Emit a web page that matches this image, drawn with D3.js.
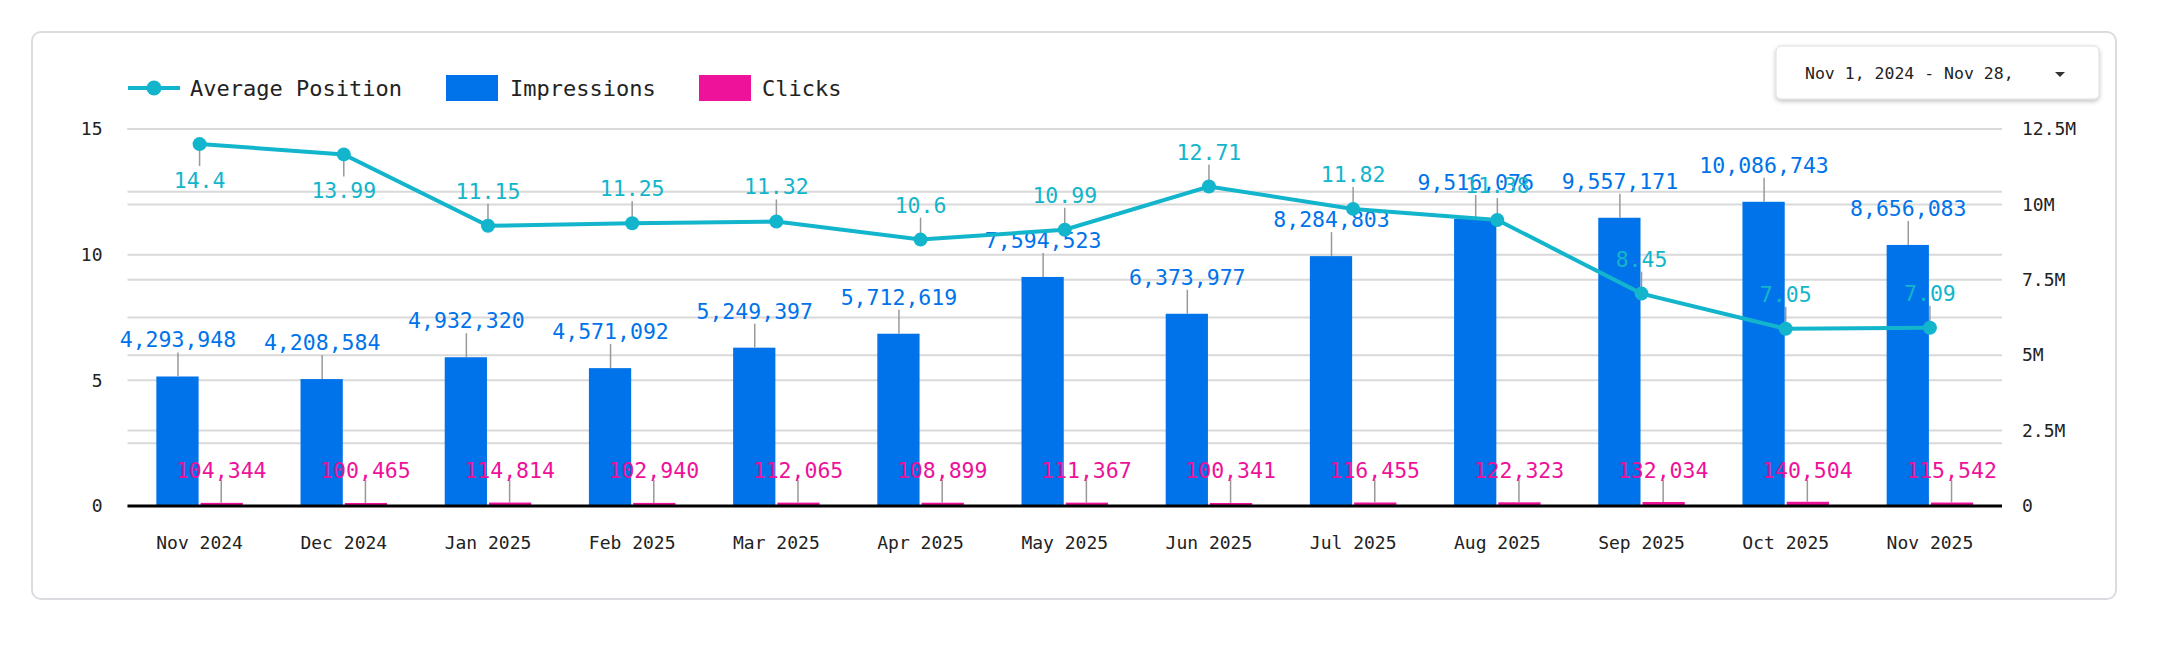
<!DOCTYPE html>
<html>
<head>
<meta charset="utf-8">
<script src="https://cdn.jsdelivr.net/npm/d3@7"></script>
<style>
body { margin: 0; background: #fff; }
text { font-family: "DejaVu Sans Mono", monospace; }
</style>
</head>
<body>
<svg id="chart" width="2160" height="650"></svg>
<script>
var months = ["Nov 2024","Dec 2024","Jan 2025","Feb 2025","Mar 2025","Apr 2025","May 2025","Jun 2025","Jul 2025","Aug 2025","Sep 2025","Oct 2025","Nov 2025"];
var impressions = [4293948,4208584,4932320,4571092,5249397,5712619,7594523,6373977,8284803,9516076,9557171,10086743,8656083];
var clicks = [104344,100465,114814,102940,112065,108899,111367,100341,116455,122323,132034,140504,115542];
var avgPosition = [14.4,13.99,11.15,11.25,11.32,10.6,10.99,12.71,11.82,11.38,8.45,7.05,7.09];
var leftTicks = [0,2.5,5,7.5,10,12.5,15];
var rightTicks = [0,2500000,5000000,7500000,10000000,12500000];

var BLUE = "#0073ea", PINK = "#ee1199", TEAL = "#12b5cb";

var svg = d3.select("#chart");
var plotL = 127.5, plotR = 2002, plotT = 129, plotB = 506;

// card
svg.append("rect").attr("x",32).attr("y",32).attr("width",2084).attr("height",567)
    .attr("rx",9).attr("fill","#fff").attr("stroke","#dadce0").attr("stroke-width",2);

var x = d3.scaleBand().domain(months).range([plotL, plotR]).paddingInner(0.4).paddingOuter(0.2);
var xc = function (m) { return x(m) + x.bandwidth()/2; };
var yL = d3.scaleLinear().domain([0,15]).range([plotB, plotT]);
var yR = d3.scaleLinear().domain([0,12500000]).range([plotB, plotT]);

// grid
var g = svg.append("g");
leftTicks.concat([]).forEach(function (t) {
    g.append("line").attr("x1",plotL).attr("x2",plotR).attr("y1",yL(t)).attr("y2",yL(t))
        .attr("stroke","#d9d9d9").attr("stroke-width",2);
});
rightTicks.forEach(function (t) {
    g.append("line").attr("x1",plotL).attr("x2",plotR).attr("y1",yR(t)).attr("y2",yR(t))
        .attr("stroke","#d9d9d9").attr("stroke-width",2);
});

// axes
var leftAxis = svg.append("g").attr("transform","translate(" + (plotL - 22) + ",0)")
    .call(d3.axisLeft(yL).tickValues([0,5,10,15]).tickSize(0).tickFormat(d3.format("d")));
var rightAxis = svg.append("g").attr("transform","translate(" + (plotR + 17) + ",0)")
    .call(d3.axisRight(yR).tickValues(rightTicks).tickSize(0)
        .tickFormat(function (d) { return d === 0 ? "0" : (d/1e6) + "M"; }));
var bottomAxis = svg.append("g").attr("transform","translate(0," + (plotB + 27) + ")")
    .call(d3.axisBottom(x).tickSize(0));
[leftAxis, rightAxis, bottomAxis].forEach(function (a) {
    a.select(".domain").remove();
    a.selectAll("text").attr("font-size",18).attr("fill","#222").attr("font-family","DejaVu Sans Mono");
});
rightAxis.selectAll("text").attr("dx",0);

var half = x.bandwidth()/2;

// impressions bars
svg.selectAll(".imp").data(months).enter().append("rect")
    .attr("x", function (m) { return x(m); })
    .attr("y", function (m, i) { return yR(impressions[i]); })
    .attr("width", half - 1)
    .attr("height", function (m, i) { return plotB - yR(impressions[i]); })
    .attr("fill", BLUE);
// clicks bars
svg.selectAll(".clk").data(months).enter().append("rect")
    .attr("x", function (m) { return xc(m) + 1; })
    .attr("y", function (m, i) { return yR(clicks[i]); })
    .attr("width", half - 1)
    .attr("height", function (m, i) { return plotB - yR(clicks[i]); })
    .attr("fill", PINK);

svg.append("line").attr("x1",plotL).attr("x2",plotR).attr("y1",plotB).attr("y2",plotB)
    .attr("stroke","#000").attr("stroke-width",3);

var fmt = d3.format(",");

// impressions labels
months.forEach(function (m, i) {
    var cx = x(m) + half/2, top = yR(impressions[i]);
    svg.append("line").attr("x1",cx).attr("x2",cx).attr("y1",top).attr("y2",top - 24)
        .attr("stroke","#999").attr("stroke-width",1.5);
    svg.append("text").attr("x",cx).attr("y",top - 29).attr("text-anchor","middle")
        .attr("font-size",21.5).attr("fill",BLUE).text(fmt(impressions[i]));
});
// clicks labels
months.forEach(function (m, i) {
    var cx = xc(m) + half/2, top = yR(clicks[i]);
    svg.append("line").attr("x1",cx).attr("x2",cx).attr("y1",top).attr("y2",480)
        .attr("stroke","#999").attr("stroke-width",1.5);
    svg.append("text").attr("x",cx).attr("y",478).attr("text-anchor","middle")
        .attr("font-size",21.5).attr("fill",PINK).text(fmt(clicks[i]));
});

// average position line
var line = d3.line().x(function (d, i) { return xc(months[i]); }).y(function (d) { return yL(d); });
svg.append("path").datum(avgPosition).attr("d", line).attr("fill","none")
    .attr("stroke",TEAL).attr("stroke-width",4);
months.forEach(function (m, i) {
    var cx = xc(m), cy = yL(avgPosition[i]);
    var below = avgPosition[i] > 13.5;
    svg.append("line").attr("x1",cx).attr("x2",cx).attr("y1",cy).attr("y2", below ? cy + 22 : cy - 22)
        .attr("stroke","#999").attr("stroke-width",1.5);
    svg.append("circle").attr("cx",cx).attr("cy",cy).attr("r",7).attr("fill",TEAL);
    svg.append("text").attr("x",cx).attr("y", below ? cy + 44 : cy - 27).attr("text-anchor","middle")
        .attr("font-size",21.5).attr("fill",TEAL).text(avgPosition[i]);
});

// legend
var lg = svg.append("g").attr("font-size",22).attr("fill","#222");
lg.append("line").attr("x1",128).attr("x2",180).attr("y1",88).attr("y2",88).attr("stroke",TEAL).attr("stroke-width",4);
lg.append("circle").attr("cx",154).attr("cy",88).attr("r",7.5).attr("fill",TEAL);
lg.append("text").attr("x",190).attr("y",96).text("Average Position");
lg.append("rect").attr("x",446).attr("y",75).attr("width",52).attr("height",26).attr("fill",BLUE);
lg.append("text").attr("x",510).attr("y",96).text("Impressions");
lg.append("rect").attr("x",699).attr("y",75).attr("width",52).attr("height",26).attr("fill",PINK);
lg.append("text").attr("x",762).attr("y",96).text("Clicks");

// date picker
var defs = svg.append("defs");
var f = defs.append("filter").attr("id","sh").attr("x","-10%").attr("y","-20%").attr("width","120%").attr("height","160%");
f.append("feDropShadow").attr("dx",0).attr("dy",2).attr("stdDeviation",2).attr("flood-color","#000").attr("flood-opacity",0.25);
svg.append("rect").attr("x",1776).attr("y",46).attr("width",323).attr("height",53).attr("rx",5)
    .attr("fill","#fff").attr("stroke","#ddd").attr("filter","url(#sh)");
svg.append("text").attr("x",1805).attr("y",79).attr("font-size",16.5).attr("fill","#222").text("Nov 1, 2024 - Nov 28,");
svg.append("path").attr("d","M2055,72 L2065,72 L2060,77 Z").attr("fill","#333");
</script>
</body>
</html>
